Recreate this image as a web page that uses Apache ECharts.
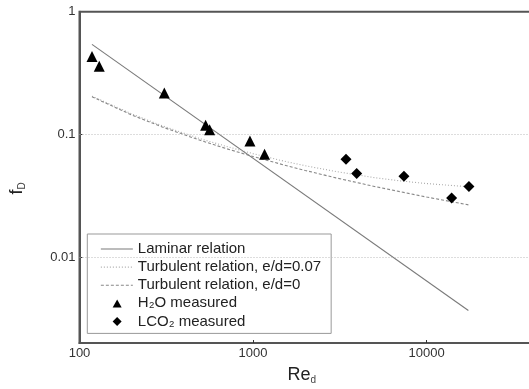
<!DOCTYPE html>
<html>
<head>
<meta charset="utf-8">
<script src="https://cdn.jsdelivr.net/npm/echarts@6/dist/echarts.min.js"></script>
<style>
  html, body { margin: 0; padding: 0; background: #fff; }
  #chart { width: 529px; height: 389px; }
</style>
</head>
<body>
<div id="chart"></div>
<script>
// Friction factor vs Reynolds number (log-log)
const laminarRe = [118, 17400];
const laminarF = [0.542, 0.00368];

const turbRe = [118, 200, 300, 500, 700, 1000, 1500, 2000, 3000, 5000, 7000, 10000, 17400];
const turbRoughF = [0.205, 0.147, 0.1175, 0.092, 0.080, 0.0697, 0.0607, 0.0556, 0.0499, 0.0445, 0.0419, 0.0398, 0.0375];
const turbSmoothF = [0.203, 0.144, 0.115, 0.0892, 0.0767, 0.0661, 0.0565, 0.0509, 0.0443, 0.0377, 0.0342, 0.0309, 0.0267];

const h2oRe = [118, 130, 308, 533, 562, 959, 1165];
const h2oF = [0.431, 0.360, 0.218, 0.119, 0.109, 0.0883, 0.0690];

const lco2Re = [3430, 3955, 7400, 13930, 17530];
const lco2F = [0.0627, 0.0480, 0.0456, 0.0303, 0.0377];

const xTickLabels = [100, 1000, 10000];
const yTickLabels = [0.01, 0.1, 1];
const gridLevels = [0.1, 0.01];

const seriesNames = [
  'Laminar relation',
  'Turbulent relation, e/d=0.07',
  'Turbulent relation, e/d=0',
  'H₂O measured',
  'LCO₂ measured'
];

const pairs = (xs, ys) => xs.map((x, i) => [x, ys[i]]);
const fmt = v => String(+Number(v).toPrecision(6));

const FONT = 'Liberation Sans, Arial, Helvetica, sans-serif';
const AXIS = '#555';
const LAMINAR = '#7a7a7a', ROUGH = '#aaa', SMOOTH = '#888';
const MARK = '#000';

// line entries in the legend show only the line sample
const hiddenSymbol = { color: 'rgba(0,0,0,0)', borderWidth: 0, opacity: 0 };
// marker icons drawn inside the full 32x9 legend icon box (leading moves fix the box)
const legendTriangle = 'path://M0,0M32,9M11.8,8.6L16.3,0.6L20.8,8.6Z';
const legendDiamond = 'path://M0,0M32,9M16.3,0L20.8,4.5L16.3,9L11.8,4.5Z';

const chart = echarts.init(document.getElementById('chart'), null, { renderer: 'canvas' });

chart.setOption({
  animation: false,
  backgroundColor: '#fff',
  textStyle: { fontFamily: FONT },
  grid: {
    left: 79.5, right: -4, top: 11.7, bottom: 46,
    show: true, borderColor: AXIS, borderWidth: 2,
    backgroundColor: 'transparent',
    outerBoundsMode: 'none'
  },
  xAxis: {
    type: 'log', logBase: 10, min: 100, max: 41000,
    axisLine: { show: true, lineStyle: { color: AXIS, width: 2 } },
    axisTick: { show: true, inside: true, length: 3, customValues: [1000, 10000], lineStyle: { color: '#333' } },
    axisLabel: { customValues: xTickLabels, formatter: fmt, fontSize: 13, color: '#333', margin: 4, fontFamily: FONT },
    splitLine: { show: false },
    minorTick: { show: false },
    name: '{a|Re}{b|d}',
    nameLocation: 'middle',
    nameGap: 22,
    nameTextStyle: {
      padding: [0, 9, 0, 0],
      rich: {
        a: { fontSize: 18, color: '#222', fontFamily: FONT, lineHeight: 20, verticalAlign: 'middle' },
        b: { fontSize: 10, color: '#444', fontFamily: FONT, lineHeight: 10, verticalAlign: 'bottom' }
      }
    }
  },
  yAxis: {
    type: 'log', logBase: 10, min: 0.002, max: 1,
    axisLine: { show: true, lineStyle: { color: AXIS, width: 2 } },
    axisTick: { show: true, inside: true, length: 3, customValues: [0.01, 0.1], lineStyle: { color: '#333' } },
    axisLabel: { customValues: yTickLabels, formatter: fmt, fontSize: 13, color: '#333', margin: 4, fontFamily: FONT },
    splitLine: { show: false },
    minorTick: { show: false },
    name: '{a|f}{b|D}',
    nameLocation: 'middle',
    nameRotate: 90,
    nameGap: 52,
    nameTextStyle: {
      padding: [0, 22, 0, 0],
      rich: {
        a: { fontSize: 18, color: '#222', fontFamily: FONT, lineHeight: 20, verticalAlign: 'middle' },
        b: { fontSize: 10, color: '#444', fontFamily: FONT, lineHeight: 10, verticalAlign: 'bottom' }
      }
    }
  },
  legend: {
    orient: 'vertical',
    left: 87.3, top: 234,
    backgroundColor: '#fff',
    borderColor: '#999', borderWidth: 1,
    padding: [7, 10, 4, 13],
    itemWidth: 32, itemHeight: 9, itemGap: 2.1,
    textStyle: { fontSize: 15, color: '#222', lineHeight: 16, fontFamily: FONT },
    data: [
      { name: seriesNames[0], itemStyle: hiddenSymbol, lineStyle: { color: LAMINAR, width: 1.1 } },
      { name: seriesNames[1], itemStyle: hiddenSymbol, lineStyle: { color: ROUGH, width: 1.1, type: [1, 2] } },
      { name: seriesNames[2], itemStyle: hiddenSymbol, lineStyle: { color: SMOOTH, width: 1.1, type: [3, 2] } },
      { name: seriesNames[3], icon: legendTriangle, itemStyle: { color: MARK, opacity: 1 } },
      { name: seriesNames[4], icon: legendDiamond, itemStyle: { color: MARK, opacity: 1 } }
    ]
  },
  series: [
    {
      name: seriesNames[0], type: 'line', symbol: 'none',
      data: pairs(laminarRe, laminarF),
      lineStyle: { color: LAMINAR, width: 1.1 },
      itemStyle: { color: LAMINAR },
      z: 3,
      markLine: {
        silent: true, symbol: 'none', label: { show: false },
        lineStyle: { color: '#bbb', width: 1, type: [1, 2] },
        data: gridLevels.map(v => ({ yAxis: v }))
      }
    },
    {
      name: seriesNames[1], type: 'line', symbol: 'none',
      data: pairs(turbRe, turbRoughF),
      lineStyle: { color: ROUGH, width: 1.1, type: [1, 2] },
      itemStyle: { color: ROUGH },
      z: 3
    },
    {
      name: seriesNames[2], type: 'line', symbol: 'none',
      data: pairs(turbRe, turbSmoothF),
      lineStyle: { color: SMOOTH, width: 1.1, type: [3, 2] },
      itemStyle: { color: SMOOTH },
      z: 3
    },
    {
      name: seriesNames[3], type: 'scatter', symbol: 'triangle', symbolSize: 11,
      data: pairs(h2oRe, h2oF),
      itemStyle: { color: MARK, opacity: 1 },
      z: 5
    },
    {
      name: seriesNames[4], type: 'scatter', symbol: 'diamond', symbolSize: 11,
      data: pairs(lco2Re, lco2F),
      itemStyle: { color: MARK, opacity: 1 },
      z: 5
    }
  ]
});
</script>
</body>
</html>
